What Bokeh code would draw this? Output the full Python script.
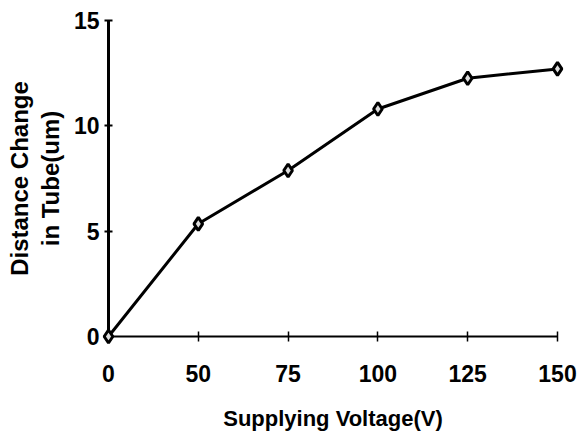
from bokeh.plotting import figure
from bokeh.models import Range1d, FixedTicker, ColumnDataSource
from bokeh.embed import file_html
from bokeh.resources import INLINE

# Data
voltage_labels = ["0", "50", "75", "100", "125", "150"]
distance_change = [0.0, 5.35, 7.88, 10.8, 12.26, 12.7]
y_ticks = [0, 5, 10, 15]

x_pos = list(range(len(voltage_labels)))
src = ColumnDataSource(dict(x=x_pos, y=distance_change, v=voltage_labels))

FONT = "Liberation Sans"
n = len(voltage_labels) - 1

p = figure(width=581, height=437, output_backend="svg", toolbar_location=None,
           x_range=Range1d(0, n), y_range=Range1d(0, 15),
           min_border_left=108, min_border_right=24, min_border_top=20, min_border_bottom=101)
p.outline_line_color = None
p.grid.visible = False
p.background_fill_color = "white"
p.border_fill_color = "white"

p.line("x", "y", source=src, line_color="black", line_width=3, level="overlay")
p.scatter("x", "y", source=src, marker="diamond", size=13, fill_color="#dddddd",
          line_color="black", line_width=3, level="overlay")

xa = p.xaxis[0]
xa.ticker = FixedTicker(ticks=x_pos)
xa.major_label_overrides = {i: lab for i, lab in enumerate(voltage_labels)}
xa.axis_label = "Supplying Voltage(V)"
xa.axis_line_width = 1.8
xa.axis_line_color = "black"
xa.major_tick_in = 5
xa.major_tick_out = 5
xa.major_tick_line_width = 1.5
xa.minor_tick_line_color = None
xa.major_label_standoff = 23
xa.axis_label_standoff = 21
xa.major_label_text_font = FONT
xa.major_label_text_font_style = "bold"
xa.major_label_text_font_size = "23px"
xa.major_label_text_color = "black"
xa.axis_label_text_font = FONT
xa.axis_label_text_font_style = "bold"
xa.axis_label_text_font_size = "22px"
xa.axis_label_text_color = "black"

ya = p.yaxis[0]
ya.ticker = FixedTicker(ticks=y_ticks)
ya.axis_label = "Distance Change\nin Tube(um)"
ya.axis_line_width = 3
ya.axis_line_color = "black"
ya.major_tick_in = 4
ya.major_tick_out = 4
ya.major_tick_line_width = 2
ya.minor_tick_line_color = None
ya.major_label_standoff = 5
ya.axis_label_standoff = 7
ya.major_label_text_font = FONT
ya.major_label_text_font_style = "bold"
ya.major_label_text_font_size = "23px"
ya.major_label_text_color = "black"
ya.axis_label_text_font = FONT
ya.axis_label_text_font_style = "bold"
ya.axis_label_text_font_size = "24px"
ya.axis_label_text_color = "black"
ya.axis_label_text_line_height = 1.15

open("out.html", "w").write(file_html(p, INLINE))
